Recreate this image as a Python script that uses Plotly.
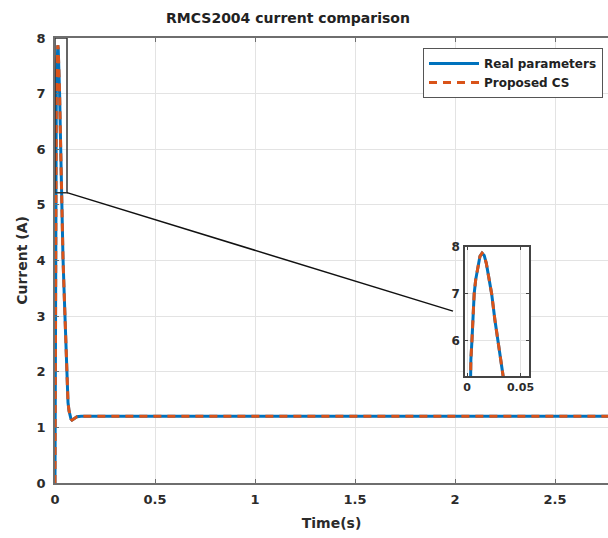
import plotly.graph_objects as go

# ---- data ----
time_s = [0, 0.0005, 0.001, 0.002, 0.003, 0.0035, 0.0045, 0.0055, 0.0066, 0.008, 0.010, 0.012,
          0.014, 0.016, 0.018, 0.020, 0.023, 0.026, 0.028, 0.030, 0.033, 0.036,
          0.040, 0.045, 0.050, 0.055, 0.060, 0.065, 0.070, 0.075, 0.080, 0.085,
          0.090, 0.100, 0.110, 0.130, 0.200, 3.0]
real_params = [0, 1.0, 2.0, 3.8, 5.25, 5.6, 6.0, 6.5, 7.0, 7.3, 7.6, 7.8,
               7.87, 7.82, 7.65, 7.4, 7.0, 6.45, 6.05, 5.7, 5.2, 4.7,
               4.05, 3.5, 3.0, 2.3, 1.75, 1.45, 1.3, 1.2, 1.15, 1.13,
               1.14, 1.17, 1.19, 1.2, 1.2, 1.2]
proposed_cs = [0, 1.0, 2.0, 3.8, 5.25, 5.6, 6.0, 6.5, 7.0, 7.3, 7.6, 7.8,
               7.87, 7.82, 7.65, 7.4, 7.0, 6.45, 6.05, 5.7, 5.2, 4.7,
               4.05, 3.5, 3.0, 2.3, 1.75, 1.45, 1.3, 1.2, 1.15, 1.13,
               1.14, 1.17, 1.19, 1.2, 1.2, 1.2]

x_ticks = [0, 0.5, 1, 1.5, 2, 2.5]
x_tick_labels = ["0", "0.5", "1", "1.5", "2", "2.5"]
y_ticks = [0, 1, 2, 3, 4, 5, 6, 7, 8]
inset_x_ticks = [0, 0.05]
inset_x_tick_labels = ["0", "0.05"]
inset_y_ticks = [6, 7, 8]

zoom_x = [0, 0.06]          # zoom rectangle in main axes
zoom_y = [5.22, 8]
link_end = [1.99, 3.09]     # end of connector line (main data coords)

BLUE = "#0072BD"
ORANGE = "#D95319"
FONT = "DejaVu Sans, sans-serif"
AX = "#6e6e6e"
GRID = "#e3e3e3"
TXT = "#2b2b2b"

fig = go.Figure()

fig.add_trace(go.Scatter(x=time_s, y=real_params, mode="lines", name="<b>Real parameters</b>",
                         line=dict(color=BLUE, width=3), xaxis="x", yaxis="y"))
fig.add_trace(go.Scatter(x=time_s, y=proposed_cs, mode="lines", name="<b>Proposed CS</b>",
                         line=dict(color=ORANGE, width=3, dash="8px,6px"), xaxis="x", yaxis="y"))
fig.add_trace(go.Scatter(x=time_s, y=real_params, mode="lines", showlegend=False,
                         line=dict(color=BLUE, width=3), xaxis="x2", yaxis="y2"))
fig.add_trace(go.Scatter(x=time_s, y=proposed_cs, mode="lines", showlegend=False,
                         line=dict(color=ORANGE, width=3, dash="8px,6px"), xaxis="x2", yaxis="y2"))

fig.add_shape(type="rect", xref="x", yref="y", x0=zoom_x[0], x1=zoom_x[1],
              y0=zoom_y[0], y1=zoom_y[1], line=dict(color="#333333", width=1.5))
fig.add_shape(type="line", xref="x", yref="y", x0=zoom_x[1], y0=zoom_y[0],
              x1=link_end[0], y1=link_end[1], line=dict(color="#111111", width=1.5))

tickfont = dict(family=FONT, size=13, color=TXT, weight="bold")

fig.update_layout(
    width=608, height=538,
    margin=dict(l=55, r=0, t=38, b=55),
    paper_bgcolor="white", plot_bgcolor="white",
    title=dict(text="<b>RMCS2004 current comparison</b>", x=(288 - 55) / 553, xref="paper",
               xanchor="center", y=1 - 18 / 538, yanchor="middle",
               font=dict(family=FONT, size=14, color="#222222")),
    xaxis=dict(range=[0, 2.765], tickvals=x_ticks, ticktext=x_tick_labels,
               showgrid=True, gridcolor=GRID, zeroline=False, automargin=False,
               showline=True, linecolor=AX, linewidth=1.5, mirror="ticks",
               ticks="inside", ticklen=4, tickcolor=AX, tickfont=tickfont,
               ticklabelstandoff=4,
               title=dict(text="<b>Time(s)</b>", standoff=12,
                          font=dict(family=FONT, size=14, color=TXT))),
    yaxis=dict(range=[0, 8], tickvals=y_ticks,
               showgrid=True, gridcolor=GRID, zeroline=False, automargin=False,
               showline=True, linecolor=AX, linewidth=1.5,
               ticks="inside", ticklen=4, tickcolor=AX, tickfont=tickfont,
               ticklabelstandoff=5,
               title=dict(text="<b>Current (A)</b>", standoff=6,
                          font=dict(family=FONT, size=14, color=TXT))),
    xaxis2=dict(domain=[(465 - 55) / 553, (529 - 55) / 553], anchor="y2",
                range=[-0.002, 0.058], tickvals=inset_x_ticks, ticktext=inset_x_tick_labels,
                showgrid=True, gridcolor=GRID, zeroline=False, automargin=False,
                showline=True, linecolor="#444444", linewidth=1.5, mirror="ticks",
                ticks="inside", ticklen=3, tickcolor="#444444",
                tickfont=dict(family=FONT, size=11, color=TXT, weight="bold")),
    yaxis2=dict(domain=[(483 - 376) / 445, (483 - 247) / 445], anchor="x2",
                range=[5.25, 8], tickvals=inset_y_ticks,
                showgrid=True, gridcolor=GRID, zeroline=False, automargin=False,
                showline=True, linecolor="#444444", linewidth=1.5, mirror="ticks",
                ticks="inside", ticklen=3, tickcolor="#444444",
                ticklabelstandoff=1,
                tickfont=dict(family=FONT, size=12, color=TXT, weight="bold")),
    legend=dict(x=(603 - 55) / 553, xanchor="right", y=(483 - 48) / 445, yanchor="top",
                bgcolor="white", bordercolor="#555555", borderwidth=1,
                font=dict(family=FONT, size=12, color="#222222"),
                itemwidth=50, tracegroupgap=0),
    showlegend=True,
)

fig.write_html("out.html",
               config={"displayModeBar": False},
               post_script="document.body.style.margin='0';document.body.style.overflow='hidden';")
